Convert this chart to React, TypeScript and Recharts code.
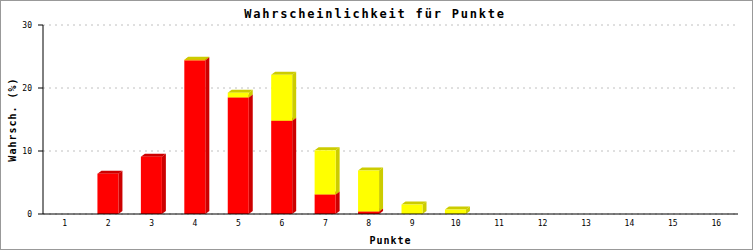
import React from 'react';
import { BarChart, Bar, XAxis, YAxis, CartesianGrid, Label } from 'recharts';

// Punkte 1..16, Anteile in Prozent (rot = unten, gelb = oben gestapelt)
const categories = ['1', '2', '3', '4', '5', '6', '7', '8', '9', '10', '11', '12', '13', '14', '15', '16'];
const redValues = [0, 6.4, 9.1, 24.4, 18.5, 14.8, 3.1, 0.4, 0, 0, 0, 0, 0, 0, 0, 0];
const yellowValues = [0, 0, 0, 0.1, 0.75, 7.3, 7.0, 6.5, 1.5, 0.7, 0, 0, 0, 0, 0, 0];
const yTicks = [0, 10, 20, 30];

const data = categories.map((name, i) => ({ name, red: redValues[i], yellow: yellowValues[i] }));

const MONO = '"DejaVu Sans Mono", monospace';

// front face + darker side and top to fake the 3d look
const makeBox = (front: string, dark: string) => (props: any) => {
  const { x, y, width, height } = props;
  if (!height || height <= 0) return null;
  const dx = 4;
  const dy = 3;
  const r = x + width;
  const b = y + height;
  return (
    <g>
      <polygon points={`${x},${y} ${x + dx},${y - dy} ${r + dx},${y - dy} ${r},${y}`} fill={dark} />
      <polygon points={`${r},${y} ${r + dx},${y - dy} ${r + dx},${b - dy} ${r},${b}`} fill={dark} />
      <rect x={x} y={y} width={width} height={height} fill={front} />
    </g>
  );
};

const RedBox = makeBox('#ff0000', '#cc0000');
const YellowBox = makeBox('#ffff00', '#cccc00');

export default function App() {
  return (
    <div style={{ position: 'relative', width: 753, height: 250, background: '#fff' }}>
      <style>{'body{margin:0}'}</style>
      <BarChart width={753} height={250} data={data} margin={{ top: 25, right: 15, bottom: 0, left: 0 }}>
        <text x={375} y={18} textAnchor="middle" fontFamily={MONO} fontSize={12} fontWeight="bold" letterSpacing={1.8} fill="#000">
          Wahrscheinlichkeit für Punkte
        </text>
        <CartesianGrid vertical={false} stroke="#c0c0c0" strokeDasharray="2 4" />
        <XAxis
          dataKey="name"
          height={36}
          axisLine={{ stroke: '#000' }}
          tickLine={false}
          tickSize={0}
          tickMargin={6}
          tick={{ fontFamily: MONO, fontSize: 8, fill: '#000' }}
        >
          <Label
            content={(p: any) => {
              const vb = p.viewBox || {};
              return (
                <text x={vb.x + vb.width / 2} y={vb.y + 30} textAnchor="middle" fontFamily={MONO} fontSize={10} fontWeight="bold" letterSpacing={1} fill="#000">
                  Punkte
                </text>
              );
            }}
          />
        </XAxis>
        <YAxis
          width={43}
          domain={[0, 30]}
          ticks={yTicks}
          axisLine={{ stroke: '#000' }}
          tickLine={{ stroke: '#000' }}
          tickSize={5}
          tickMargin={6}
          tick={{ fontFamily: MONO, fontSize: 8, fill: '#000' }}
        >
          <Label
            content={(p: any) => {
              const vb = p.viewBox || {};
              const cx = 16;
              const cy = vb.y + vb.height / 2;
              return (
                <text x={cx} y={cy} transform={`rotate(-90 ${cx} ${cy})`} textAnchor="middle" fontFamily={MONO} fontSize={10} fontWeight="bold" letterSpacing={1} fill="#000">
                  Wahrsch. (%)
                </text>
              );
            }}
          />
        </YAxis>
        <YAxis yAxisId="right" orientation="right" width={0} domain={[0, 30]} tick={false} tickLine={false} axisLine={{ stroke: '#000' }} />
        <Bar dataKey="red" stackId="a" barSize={21} shape={RedBox} isAnimationActive={false} />
        <Bar dataKey="yellow" stackId="a" barSize={21} shape={YellowBox} isAnimationActive={false} />
      </BarChart>
      <div style={{ position: 'absolute', left: 0, top: 0, width: 753, height: 250, boxSizing: 'border-box', border: '1px solid #999', pointerEvents: 'none' }} />
    </div>
  );
}
